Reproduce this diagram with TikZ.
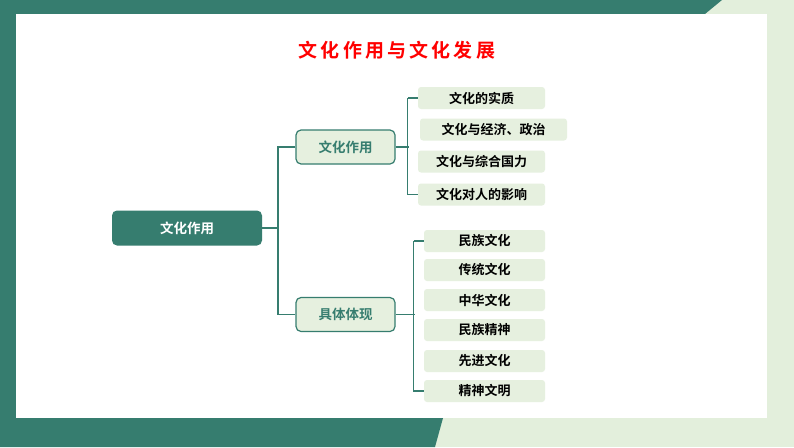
\documentclass[tikz,border=0pt]{standalone}
\usepackage{fontspec}
\setmainfont{Noto Sans CJK SC}[BoldFont={Noto Sans CJK SC Bold}]
\definecolor{teal}{HTML}{367D6F}
\definecolor{pale}{HTML}{E3EFDC}
\definecolor{leaf}{HTML}{E6F0DF}
\begin{document}
\begin{tikzpicture}[x=1pt,y=-1pt,
  leafbox/.style={fill=leaf,rounded corners=3pt,minimum height=22pt,font=\bfseries\fontsize{13}{14}\selectfont,inner sep=0pt},
  midbox/.style={draw=teal,line width=1.2pt,fill=leaf,rounded corners=5pt,minimum width=99pt,minimum height=34pt,text=teal,font=\bfseries\fontsize{13.5}{15}\selectfont},
  conn/.style={teal,line width=1.2pt}]
\useasboundingbox (0,0) rectangle (794,447);
\fill[pale] (0,0) rectangle (794,447);
\fill[teal] (0,0) -- (722,0) -- (705,14) -- (16,14) -- (16,418) -- (443,418) -- (435,447) -- (0,447) -- cycle;
\fill[white] (16,14) rectangle (767,418);
\node[text=red,font=\bfseries\fontsize{19}{21}\selectfont] (title) at (397,50) {文\,化\,作\,用\,与\,文\,化\,发\,展};
\node[fill=teal,rounded corners=5pt,minimum width=150pt,minimum height=35pt,text=white,font=\bfseries\fontsize{13.5}{15}\selectfont] (root) at (187,228) {文化作用};
\node[midbox] (m1) at (345.5,147) {文化作用};
\node[midbox] (m2) at (345.5,314.5) {具体体现};
\node[leafbox,minimum width=127pt] (a1) at (481.5,98) {文化的实质};
\node[leafbox,minimum width=147pt] (a2) at (493.5,129.5) {文化与经济、政治};
\node[leafbox,minimum width=127pt] (a3) at (481.5,161.5) {文化与综合国力};
\node[leafbox,minimum width=127pt] (a4) at (481.5,194.5) {文化对人的影响};
\foreach \t/\y [count=\i] in {民族文化/241,传统文化/270,中华文化/300,民族精神/330,先进文化/361,精神文明/391}
  \node[leafbox,minimum width=121pt] (b\i) at (484.5,\y) {\t};
\coordinate (r1) at (278,147);
\coordinate (r2) at (278,314.5);
\draw[conn] (root.east) -- (root.east -| r1);
\draw[conn] (m1.west) -- (r1) -- (r2) -- (m2.west);
\draw[conn] (m1.east) -- ++(13,0);
\draw[conn] (a1.west) ++(-10,0) coordinate (t1) -- (a1.west);
\draw[conn] (t1) -- (t1 |- a4.west) -- (a4.west);
\draw[conn] (m2.east) -- ++(19,0);
\draw[conn] (b1.west) ++(-10,0) coordinate (t2) -- (b1.west);
\draw[conn] (t2) -- (t2 |- b6.west) -- (b6.west);
\end{tikzpicture}
\end{document}
